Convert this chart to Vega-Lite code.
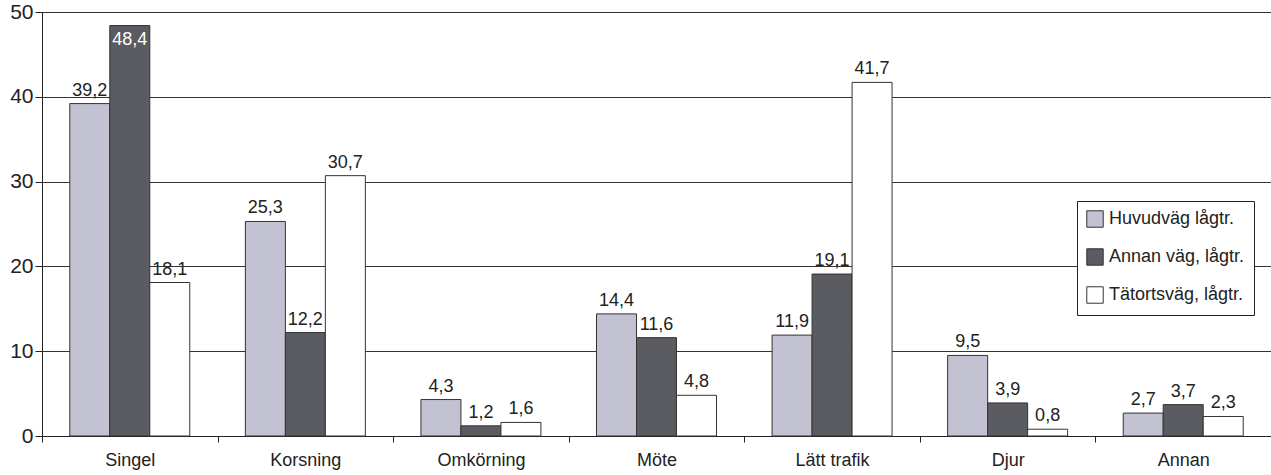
{
  "$schema": "https://vega.github.io/schema/vega-lite/v6.json",
  "width": 1229,
  "height": 424,
  "autosize": {"type": "none"},
  "padding": {"left": 42, "top": 12, "right": 0, "bottom": 39},
  "background": "white",
  "config": {
    "locale": {"number": {"decimal": ",", "thousands": " ", "grouping": [3], "currency": ["", " kr"]}},
    "font": "Liberation Sans Narrow, Liberation Sans, Arial",
    "view": {"stroke": "#222", "strokeWidth": 1}
  },
  "data": {
    "values": [
      {"typ": "Singel", "vag": "Huvudväg lågtr.", "andel": 39.2},
      {"typ": "Singel", "vag": "Annan väg, lågtr.", "andel": 48.4},
      {"typ": "Singel", "vag": "Tätortsväg, lågtr.", "andel": 18.1},
      {"typ": "Korsning", "vag": "Huvudväg lågtr.", "andel": 25.3},
      {"typ": "Korsning", "vag": "Annan väg, lågtr.", "andel": 12.2},
      {"typ": "Korsning", "vag": "Tätortsväg, lågtr.", "andel": 30.7},
      {"typ": "Omkörning", "vag": "Huvudväg lågtr.", "andel": 4.3},
      {"typ": "Omkörning", "vag": "Annan väg, lågtr.", "andel": 1.2},
      {"typ": "Omkörning", "vag": "Tätortsväg, lågtr.", "andel": 1.6},
      {"typ": "Möte", "vag": "Huvudväg lågtr.", "andel": 14.4},
      {"typ": "Möte", "vag": "Annan väg, lågtr.", "andel": 11.6},
      {"typ": "Möte", "vag": "Tätortsväg, lågtr.", "andel": 4.8},
      {"typ": "Lätt trafik", "vag": "Huvudväg lågtr.", "andel": 11.9},
      {"typ": "Lätt trafik", "vag": "Annan väg, lågtr.", "andel": 19.1},
      {"typ": "Lätt trafik", "vag": "Tätortsväg, lågtr.", "andel": 41.7},
      {"typ": "Djur", "vag": "Huvudväg lågtr.", "andel": 9.5},
      {"typ": "Djur", "vag": "Annan väg, lågtr.", "andel": 3.9},
      {"typ": "Djur", "vag": "Tätortsväg, lågtr.", "andel": 0.8},
      {"typ": "Annan", "vag": "Huvudväg lågtr.", "andel": 2.7},
      {"typ": "Annan", "vag": "Annan väg, lågtr.", "andel": 3.7},
      {"typ": "Annan", "vag": "Tätortsväg, lågtr.", "andel": 2.3}
    ]
  },
  "encoding": {
    "x": {
      "field": "typ",
      "type": "nominal",
      "sort": ["Singel", "Korsning", "Omkörning", "Möte", "Lätt trafik", "Djur", "Annan"],
      "scale": {"paddingInner": 0, "paddingOuter": 0},
      "axis": {
        "title": null,
        "labelAngle": 0,
        "labelFontSize": 18,
        "labelColor": "#222",
        "labelPadding": 9,
        "tickBand": "extent",
        "tickSize": 6,
        "tickColor": "#222",
        "domainColor": "#222",
        "grid": false
      }
    },
    "xOffset": {
      "field": "vag",
      "type": "nominal",
      "sort": ["Huvudväg lågtr.", "Annan väg, lågtr.", "Tätortsväg, lågtr."],
      "scale": {"paddingInner": 0, "paddingOuter": 0.695}
    },
    "y": {
      "field": "andel",
      "type": "quantitative",
      "scale": {"domain": [0, 50], "nice": false},
      "axis": {
        "title": null,
        "values": [0, 10, 20, 30, 40, 50],
        "labelFontSize": 21,
        "labelColor": "#222",
        "labelPadding": 2,
        "tickSize": 7,
        "tickColor": "#222",
        "domainColor": "#222",
        "grid": true,
        "gridColor": "#333",
        "gridWidth": 1
      }
    }
  },
  "layer": [
    {
      "mark": {"type": "bar", "stroke": "#333", "strokeWidth": 1},
      "encoding": {
        "color": {
          "field": "vag",
          "type": "nominal",
          "sort": ["Huvudväg lågtr.", "Annan väg, lågtr.", "Tätortsväg, lågtr."],
          "scale": {"range": ["#c3c2d2", "#5b5b62", "#ffffff"]},
          "legend": {
            "title": null,
            "orient": "none",
            "legendX": 1035,
            "legendY": 189,
            "symbolType": "square",
            "symbolSize": 270,
            "symbolStrokeColor": "#333",
            "symbolStrokeWidth": 1,
            "symbolOpacity": 1,
            "labelFontSize": 18,
            "labelColor": "#222",
            "labelLimit": 300,
            "labelOffset": 5,
            "rowPadding": 16,
            "padding": 9,
            "strokeColor": "#222",
            "fillColor": "white"
          }
        }
      }
    },
    {
      "transform": [{"filter": "datum.andel < 45"}],
      "mark": {"type": "text", "baseline": "bottom", "dy": -4, "fontSize": 18, "color": "#222"},
      "encoding": {
        "text": {"field": "andel", "type": "quantitative", "format": ".1f"}
      }
    },
    {
      "transform": [{"filter": "datum.andel >= 45"}],
      "mark": {"type": "text", "baseline": "top", "dy": 5, "fontSize": 18, "color": "white"},
      "encoding": {
        "text": {"field": "andel", "type": "quantitative", "format": ".1f"}
      }
    }
  ]
}
